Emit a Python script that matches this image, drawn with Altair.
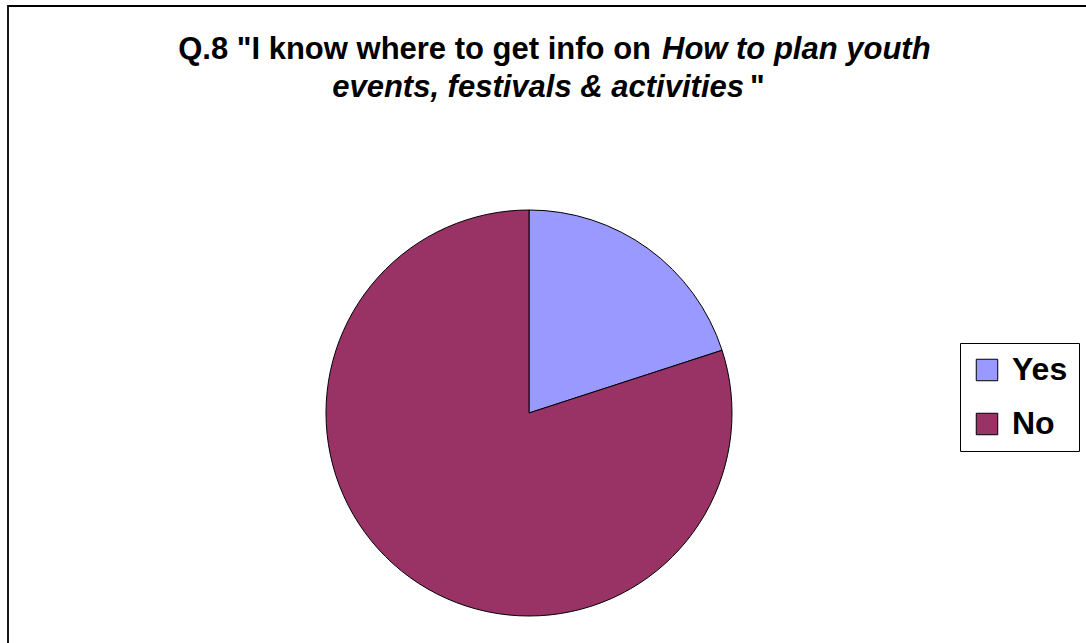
import altair as alt
import pandas as pd

categories = ["Yes", "No"]
values = [20, 80]
colors = ["#9999FF", "#993366"]

title_line1_bold = 'Q.8 "I know where to get info on'
title_line1_italic = "How to plan youth"
title_line2_italic = "events, festivals & activities"
title_line2_bold = '"'

df = pd.DataFrame({"answer": categories, "value": values, "order": list(range(len(categories)))})

pie = alt.Chart(df).mark_arc(stroke="black", strokeWidth=1, radius=203).encode(
    theta=alt.Theta("value:Q", stack=True),
    order=alt.Order("order:Q"),
    x=alt.value(529),
    y=alt.value(413),
    color=alt.Color(
        "answer:N",
        scale=alt.Scale(domain=categories, range=colors),
        sort=categories,
        legend=alt.Legend(
            title=None,
            orient="none",
            legendX=960,
            legendY=343,
            symbolType="square",
            symbolSize=462,
            symbolStrokeColor="black",
            symbolStrokeWidth=1,
            symbolOpacity=1,
            labelFontSize=32,
            labelFontWeight="bold",
            labelFont="Liberation Sans",
            labelColor="black",
            labelOffset=9,
            rowPadding=22,
            strokeColor="black",
            padding=11,
            fillColor="white",
        ),
    ),
)

frame = alt.Chart(pd.DataFrame({"a": [0]})).mark_rect(
    fill=None, stroke="black", strokeWidth=1.8
).encode(x=alt.value(8), y=alt.value(6), x2=alt.value(1200), y2=alt.value(800))

def txt(s, x, y, align, style):
    return alt.Chart(pd.DataFrame({"t": [s]})).mark_text(
        font="Liberation Sans", fontSize=31, fontWeight="bold", fontStyle=style,
        align=align, baseline="alphabetic", color="black"
    ).encode(text="t:N", x=alt.value(x), y=alt.value(y))

t1 = txt(title_line1_bold, 651, 59, "right", "normal")
t2 = txt(title_line1_italic, 662, 59, "left", "italic")
t3 = txt(title_line2_italic, 744, 97, "right", "italic")
t4 = txt(title_line2_bold, 750, 97, "left", "normal")

chart = alt.layer(frame, pie, t1, t2, t3, t4).properties(
    width=1086, height=643, autosize=alt.AutoSizeParams(type="none"), padding=0,
    background="white"
).configure_view(stroke=None)

chart.save("out.html", embed_options={"renderer": "svg", "actions": False})
